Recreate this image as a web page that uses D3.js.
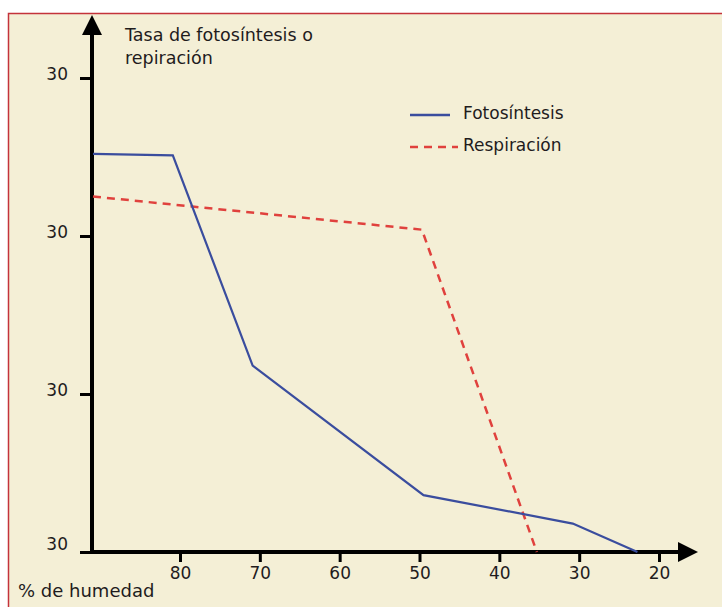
<!DOCTYPE html>
<html>
<head>
<meta charset="utf-8">
<script src="https://cdn.jsdelivr.net/npm/d3@7"></script>
<style>
  html, body { margin: 0; padding: 0; background: #fff; }
  text { font-family: "DejaVu Sans", sans-serif; fill: #1f1c1d; }
</style>
</head>
<body>
<div id="chart"></div>
<script>
// % de humedad (x) and tasa (y)
var fotoHumedad = [90.9, 80.9, 70.9, 49.5, 30.8, 22.7];
var fotoTasa    = [25.2, 25.1, 11.8, 3.6, 1.8, 0];
var respHumedad = [90.9, 49.7, 35.3];
var respTasa    = [22.5, 20.4, 0];

var xTickValues = [80, 70, 60, 50, 40, 30, 20];
var yTickValues = [0, 10, 20, 30];
var yTickLabels = ["30", "30", "30", "30"];

var seriesNames = ["Fotosíntesis", "Respiración"];

function DrawChart() {
  var width = 722,
      height = 607;

  var xScale = d3.scaleLinear()
    .domain([80, 20])
    .range([180, 659]);

  var yScale = d3.scaleLinear()
    .domain([0, 30])
    .range([552, 78]);

  var svg = d3.select("#chart")
    .append("svg")
    .attr("width", width)
    .attr("height", height);

  // panel with red frame
  svg.append("rect")
    .attr("x", 8.5)
    .attr("y", 13.5)
    .attr("width", width)
    .attr("height", height)
    .style("fill", "#f4efd6")
    .style("stroke", "#c4333b")
    .style("stroke-width", 1.5);

  var defs = svg.append("defs");
  defs.append("marker")
    .attr("id", "arrow")
    .attr("viewBox", "0 0 10 10")
    .attr("refX", 0)
    .attr("refY", 5)
    .attr("markerUnits", "userSpaceOnUse")
    .attr("markerWidth", 20)
    .attr("markerHeight", 20)
    .attr("orient", "auto")
    .append("path")
    .attr("d", "M0,0 L10,5 L0,10 Z")
    .style("fill", "#000");

  // y axis ticks
  var yAxis = d3.axisLeft(yScale)
    .tickValues(yTickValues)
    .tickSize(12)
    .tickPadding(12)
    .tickFormat(function(d, i) { return yTickLabels[i]; });

  var yAxisGroup = svg.append("g")
    .attr("transform", "translate(92,0)")
    .call(yAxis);
  yAxisGroup.select(".domain").remove();
  yAxisGroup.selectAll("line").style("stroke", "#000").style("stroke-width", 3);
  yAxisGroup.selectAll("text")
    .attr("dy", function(d) { return d === 0 ? "-0.15em" : "0.1em"; })
    .style("font-size", "17px")
    .style("font-family", "DejaVu Sans, sans-serif")
    .style("fill", "#1f1c1d");

  // x axis ticks
  var xAxis = d3.axisBottom(xScale)
    .tickValues(xTickValues)
    .tickSize(10)
    .tickPadding(5);

  var xAxisGroup = svg.append("g")
    .attr("transform", "translate(0,552)")
    .call(xAxis);
  xAxisGroup.select(".domain").remove();
  xAxisGroup.selectAll("line").style("stroke", "#000").style("stroke-width", 3);
  xAxisGroup.selectAll("text")
    .style("font-size", "17px")
    .style("font-family", "DejaVu Sans, sans-serif")
    .style("fill", "#1f1c1d");

  // axis lines with arrows
  svg.append("line")
    .attr("x1", 90).attr("y1", 552)
    .attr("x2", 678).attr("y2", 552)
    .attr("marker-end", "url(#arrow)")
    .style("stroke", "#000")
    .style("stroke-width", 4);

  svg.append("line")
    .attr("x1", 92).attr("y1", 554)
    .attr("x2", 92).attr("y2", 35)
    .attr("marker-end", "url(#arrow)")
    .style("stroke", "#000")
    .style("stroke-width", 4);

  var line = d3.line()
    .x(function(d) { return xScale(d[0]); })
    .y(function(d) { return yScale(d[1]); });

  var fotoData = fotoHumedad.map(function(h, i) { return [h, fotoTasa[i]]; });
  var respData = respHumedad.map(function(h, i) { return [h, respTasa[i]]; });

  svg.append("path")
    .datum(respData)
    .attr("d", line)
    .style("fill", "none")
    .style("stroke", "#e0413d")
    .style("stroke-width", 2.5)
    .style("stroke-dasharray", "8,6");

  svg.append("path")
    .datum(fotoData)
    .attr("d", line)
    .style("fill", "none")
    .style("stroke", "#3a4d9e")
    .style("stroke-width", 2.2);

  // legend
  var legend = svg.append("g");
  legend.append("line")
    .attr("x1", 410).attr("y1", 115)
    .attr("x2", 450).attr("y2", 115)
    .style("stroke", "#3a4d9e")
    .style("stroke-width", 2.5);
  legend.append("line")
    .attr("x1", 410).attr("y1", 147)
    .attr("x2", 458).attr("y2", 147)
    .style("stroke", "#e0413d")
    .style("stroke-width", 2.5)
    .style("stroke-dasharray", "8,6");
  legend.selectAll("text.leg")
    .data(seriesNames)
    .enter()
    .append("text")
    .attr("class", "leg")
    .attr("x", 463)
    .attr("y", function(d, i) { return 113 + i * 32; })
    .attr("dy", "0.35em")
    .style("font-size", "17px")
    .text(function(d) { return d; });

  // axis titles
  var yTitle = svg.append("text")
    .attr("x", 125)
    .attr("y", 41)
    .style("font-size", "17.5px");
  yTitle.append("tspan").attr("x", 125).text("Tasa de fotosíntesis o");
  yTitle.append("tspan").attr("x", 125).attr("dy", 23).text("repiración");

  svg.append("text")
    .attr("x", 18)
    .attr("y", 597)
    .style("font-size", "18px")
    .text("% de humedad");
}

DrawChart();
</script>
</body>
</html>
